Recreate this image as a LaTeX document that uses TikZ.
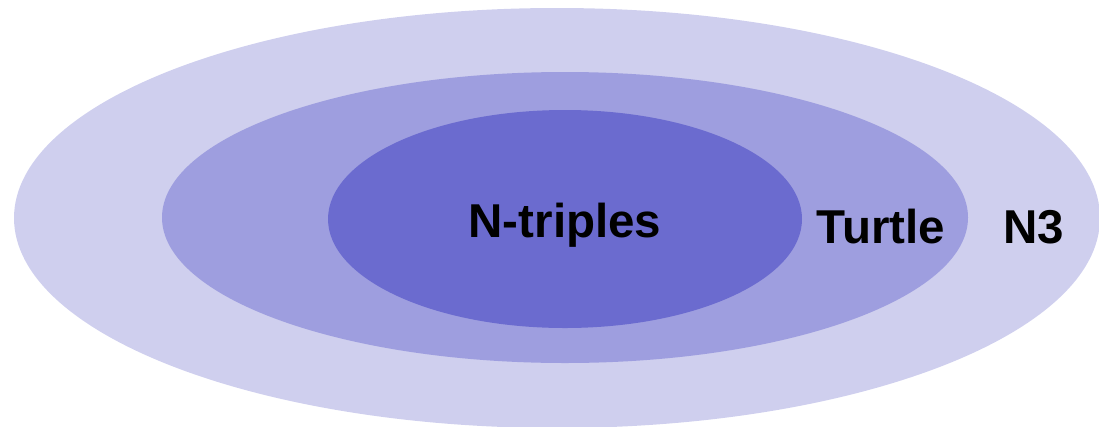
\documentclass[tikz,border=0pt]{standalone}
\usepackage{fontspec}
\setmainfont{Liberation Sans}
\usepackage{tikz}
\usetikzlibrary{shapes.geometric}
\definecolor{outc}{HTML}{CFCFEE}
\definecolor{midc}{HTML}{9E9EDF}
\definecolor{innc}{HTML}{6B6BCF}
\tikzset{
  lay/.style={ellipse,inner sep=0pt,draw=none},
  lbl/.style={font=\fontsize{47.5}{50}\selectfont\bfseries,anchor=base,inner sep=0pt}
}
\begin{document}
\begin{tikzpicture}[x=1pt,y=-1pt]
\useasboundingbox (0,0) rectangle (1099,426);
\clip (0,0) rectangle (1099,426);
\node[lay,fill=outc,minimum width=1086pt,minimum height=420pt] (n3) at (557,218) {};
\node[lay,fill=midc,minimum width=806pt,minimum height=291pt] (turtle) at (565,217.5) {};
\node[lay,fill=innc,minimum width=474pt,minimum height=218pt] (ntrip) at (565,219) {};
\node[lbl] (ntripl) at (565,237) {N-triples};
\node[lbl] (turtlel) at (881,243) {Turtle};
\node[lbl] (n3l) at (1034,243) {N3};
\end{tikzpicture}
\end{document}
